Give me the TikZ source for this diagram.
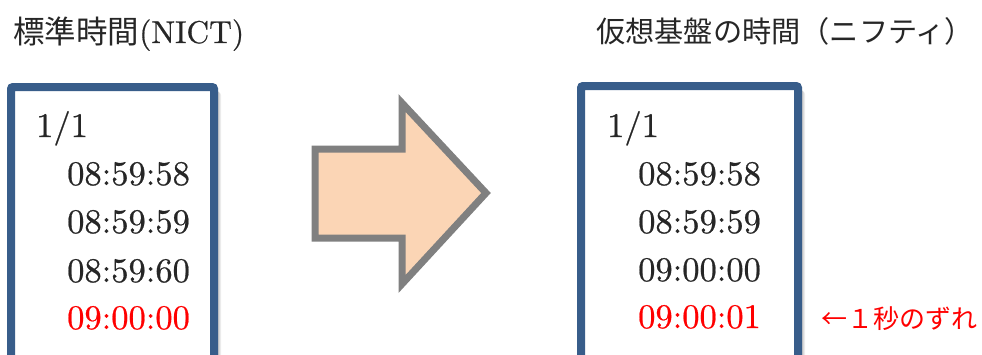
\documentclass[tikz,border=0pt]{standalone}
\usepackage{fontspec}
\newfontfamily\jp{Noto Sans CJK JP}
\newfontfamily\lmten[FakeBold=0.6]{lmroman10-regular.otf}
\definecolor{boxblue}{HTML}{385D8A}
\definecolor{peach}{HTML}{FBD5B5}
\definecolor{txt}{HTML}{262626}
\begin{document}
\begin{tikzpicture}[x=1pt,y=-1pt,
  timetxt/.style={anchor=base west,inner sep=0pt,text=txt,font=\lmten\fontsize{34.5}{40}\selectfont},
  redtxt/.style={timetxt,text=red},
  titletxt/.style={anchor=base west,inner sep=0pt,text=txt},
  clockbox/.style={draw=boxblue,line width=8pt,fill=white,rounded corners=2pt}]
\clip (0,0) rectangle (982,354);
% shadows
\foreach \i in {1,...,5}{
  \fill[black,opacity=0.07,rounded corners=3pt] (11+\i+1,87+\i) rectangle (214+\i+2,380);
  \fill[black,opacity=0.07,rounded corners=3pt] (581+\i+1,86+\i) rectangle (798+\i+2,380);
}
\draw[clockbox] (11,87) rectangle (214,380);
\draw[clockbox] (581,86) rectangle (798,380);
% titles
\node[titletxt,font=\lmten\fontsize{31.5}{36}\selectfont] (t1) at (13,43) {{\jp 標準時間}(NICT)};
\node[titletxt,font=\jp\fontsize{29.2}{34}\selectfont] (t2) at (596,42) {仮想基盤の時間（ニフティ）};
% left box
\node[timetxt] (l0) at (36,137) {1/1};
\node[timetxt] (l1) at (67,185) {08:59:58};
\node[timetxt] (l2) at (67,233) {08:59:59};
\node[timetxt] (l3) at (67,282) {08:59:60};
\node[redtxt] (l4) at (67,329) {09:00:00};
% right box
\node[timetxt] (r0) at (607,137) {1/1};
\node[timetxt] (r1) at (638,185) {08:59:58};
\node[timetxt] (r2) at (638,233) {08:59:59};
\node[timetxt] (r3) at (638,281) {09:00:00};
\node[redtxt] (r4) at (638,328) {09:00:01};
% note
\node[anchor=base west,inner sep=0pt,text=red,font=\jp\fontsize{26}{30}\selectfont] (note) at (821,328) {←１秒のずれ};
% big arrow
\draw[draw=gray,fill=peach,line width=7pt,line join=miter]
  (315,149) -- (402,149) -- (402,103) -- (486,193) -- (402,284) -- (402,238) -- (315,238) -- cycle;
\end{tikzpicture}
\end{document}
